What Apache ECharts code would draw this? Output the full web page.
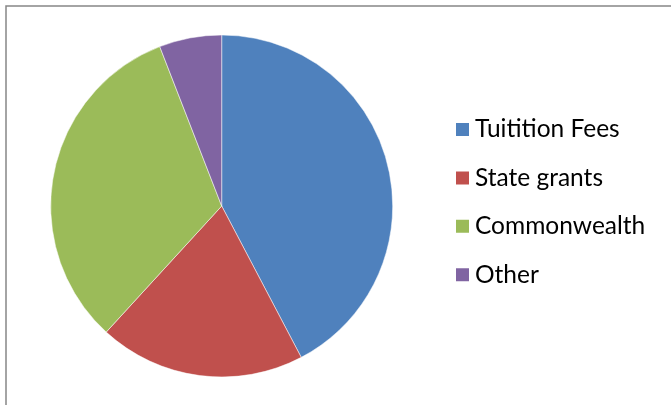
<!DOCTYPE html>
<html><head><meta charset="utf-8">
<script src="https://cdn.jsdelivr.net/npm/echarts@6/dist/echarts.min.js"></script>
<style>html,body{margin:0;padding:0;background:#fff}#c{width:671px;height:405px}</style>
</head><body><div id="c"></div>
<script>
const categories = ['Tuitition Fees', 'State grants', 'Commonwealth', 'Other'];
const values = [42.3, 19.5, 32.3, 5.9];
const colors = ['#4F81BD', '#C0504D', '#9BBB59', '#8064A2'];

const chart = echarts.init(document.getElementById('c'), null, {renderer: 'canvas'});
chart.setOption({
  animation: false,
  backgroundColor: '#ffffff',
  color: colors,
  graphic: [{
    type: 'rect', shape: {x: 6, y: 6, width: 800, height: 600},
    style: {fill: 'none', stroke: '#868686', lineWidth: 1.5}, silent: true, z: -1
  }],
  legend: {
    orient: 'vertical', left: 454, top: 117, padding: 0,
    itemWidth: 15, itemHeight: 15, itemGap: 23.4,
    icon: 'rect',
    textStyle: {fontFamily: 'Lato', fontSize: 24.5, lineHeight: 24, color: '#000'},
    data: categories
  },
  series: [{
    type: 'pie', center: [221.7, 206], radius: 171,
    startAngle: 90, clockwise: true,
    label: {show: false}, labelLine: {show: false},
    itemStyle: {borderColor: '#fff', borderWidth: 0.5},
    emphasis: {disabled: true},
    data: categories.map((n, i) => ({name: n, value: values[i]}))
  }]
});
</script></body></html>
